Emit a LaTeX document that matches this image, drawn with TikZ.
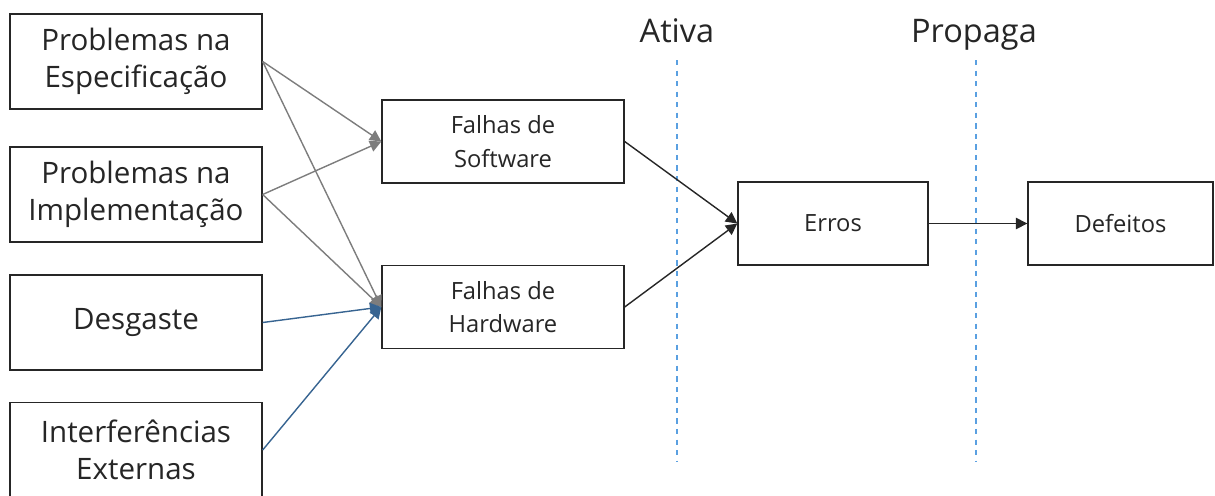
\documentclass[tikz,border=0pt]{standalone}
\usepackage{fontspec}
\setmainfont{Open Sans}
\usepackage{tikz}
\usetikzlibrary{arrows.meta}
\definecolor{linkgray}{RGB}{125,125,125}
\definecolor{linkblue}{RGB}{55,100,145}
\definecolor{phaseblue}{RGB}{90,160,225}

\begin{document}
\begin{tikzpicture}[x=0.02cm, y=-0.02cm, line width=0.8pt, >={Triangle[length=6.5pt,width=6.5pt]}]
			\tikzstyle{cause}=[draw=black!85, fill=white, minimum width=5.04cm, minimum height=1.9cm, align=center, font=\fontsize{16.8}{21}\selectfont, text=black!85, inner sep=0pt]
			\tikzstyle{fault}=[draw=black!85, fill=white, minimum width=4.84cm, minimum height=1.66cm, align=center, font=\fontsize{13.5}{19}\selectfont, text=black!85, inner sep=0pt]
			\tikzstyle{phase}=[font=\fontsize{18.5}{22}\selectfont, text=black!85, anchor=base]
			\tikzstyle{border}=[draw=phaseblue, dashed, line width=0.6pt]

			\useasboundingbox (0,0) rectangle (1215,495);

			% Draw phase borders
			\node[phase] (ativa) at (677,42) {Ativa};
			\node[phase] (propaga) at (974,42) {Propaga};
			\coordinate (ativatop) at (677,60);
			\coordinate (ativabot) at (677,462);
			\coordinate (propagatop) at (976,60);
			\coordinate (propagabot) at (976,462);
			\draw[border] (ativatop) -- (ativabot);
			\draw[border] (propagatop) -- (propagabot);

			% Draw causes
			\node[cause] (espec) at (136,61.5) {Problemas na\\Especificação};
			\node[cause] (impl) at (136,194.5) {Problemas na\\Implementação};
			\node[cause] (desgaste) at (136,322.5) {Desgaste};
			\node[cause] (interf) at (136,450) {Interferências\\Externas};

			% Draw faults, errors and failures
			\node[fault] (software) at (503,141.5) {Falhas de\\Software};
			\node[fault] (hardware) at (503,307) {Falhas de\\Hardware};
			\node[fault, minimum width=3.8cm] (erros) at (833,223.5) {Erros};
			\node[fault, minimum width=3.7cm] (defeitos) at (1120.5,223.5) {Defeitos};

			% Draw arrows
			\path (espec.east) edge[->, linkgray] (software.west);
			\path (espec.east) edge[->, linkgray] (hardware.west);
			\path (impl.east) edge[->, linkgray] (software.west);
			\path (impl.east) edge[->, linkgray] (hardware.west);
			\path (desgaste.east) edge[->, linkblue] (hardware.west);
			\path (interf.east) edge[->, linkblue] (hardware.west);
			\path (software.east) edge[->, black!85] (erros.west);
			\path (hardware.east) edge[->, black!85] (erros.west);
			\path (erros.east) edge[->, black!85] (defeitos.west);

		\end{tikzpicture}
\end{document}
